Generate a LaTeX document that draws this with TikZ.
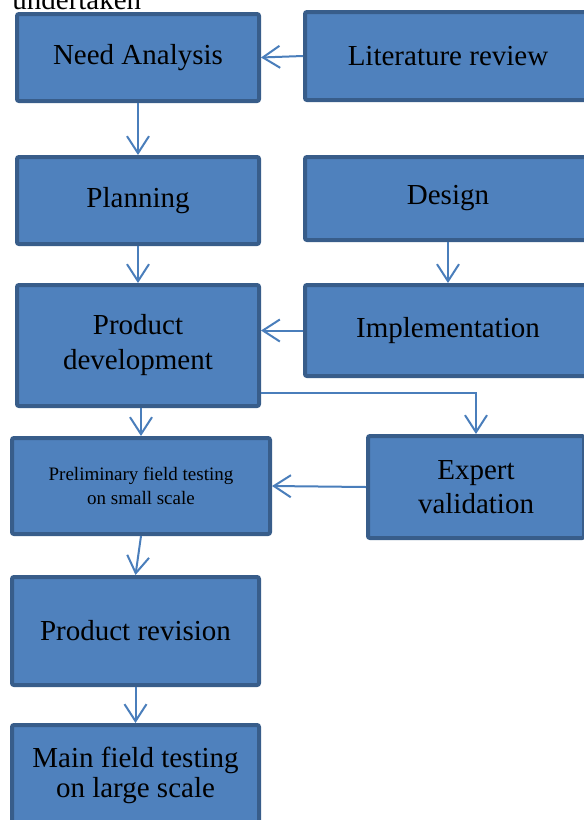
\documentclass[tikz,border=0pt]{standalone}
\usepackage{fontspec}
\setmainfont{Liberation Serif}
\usetikzlibrary{arrows.meta}
\definecolor{boxfill}{HTML}{4F81BD}
\definecolor{boxline}{HTML}{385D8A}
\definecolor{arrline}{HTML}{4A7EBB}
\begin{document}
\begin{tikzpicture}[x=0.5pt,y=-0.5pt,
stepbox/.style={rectangle,draw=boxline,fill=boxfill,line width=2pt,rounded corners=1pt,inner sep=0pt,align=center,font=\fontsize{14.5}{17.5}\selectfont},
stepsmall/.style={stepbox,font=\fontsize{9.5}{12}\selectfont},
arr/.style={draw=arrline,line width=1pt,-{Straight Barb[length=8.5pt,width=11pt]}}]
\useasboundingbox (0,0) rectangle (584,820);

% caption above
\node[anchor=base west,inner sep=0pt,font=\fontsize{14.5}{17.5}\selectfont] (caption) at (12,9) {undertaken};

% left column
\node[stepbox,minimum width=121pt,minimum height=43.5pt] (need) at (138,57.5) {Need Analysis};
\node[stepbox,minimum width=121pt,minimum height=43.5pt] (planning) at (138,200.5) {Planning};
\node[stepbox,minimum width=121pt,minimum height=60.5pt] (proddev) at (138,345.5) {Product\\development};
\node[stepsmall,minimum width=129pt,minimum height=48pt] (prelim) at (141,486) {Preliminary field testing\\on small scale};
\node[stepbox,minimum width=123.5pt,minimum height=54pt] (revision) at (135.5,631) {Product revision};
\node[stepbox,minimum width=123.5pt,minimum height=50pt,font=\fontsize{14.5}{15}\selectfont] (mainfield) at (135.5,775) {Main field testing\\on large scale};

% right column
\node[stepbox,minimum width=143pt,minimum height=44pt] (litreview) at (448,56) {Literature review};
\node[stepbox,minimum width=143pt,minimum height=41.5pt] (design) at (448,198.5) {Design};
\node[stepbox,minimum width=143pt,minimum height=45.5pt] (impl) at (448,330.5) {Implementation};
\node[stepbox,minimum width=108pt,minimum height=51pt,font=\fontsize{14.5}{17}\selectfont] (expert) at (476,487) {Expert\\validation};

% Arrows
\draw[arr] (litreview.west) -- (need.east);
\draw[arr] (need) -- (planning);
\draw[arr] (planning) -- (proddev);
\draw[arr] (design) -- (impl);
\draw[arr] (impl.west) -- (impl.west -| proddev.east);
\draw[arr] ([yshift=-23.75pt]proddev.east) -| (expert.north);
\draw[arr] (prelim.north |- proddev.south) -- (prelim.north);
\draw[arr] (expert.west) -- (prelim.east);
\draw[arr] (prelim.south) -- (revision.north);
\draw[arr] (revision) -- (mainfield);

\end{tikzpicture}
\end{document}
